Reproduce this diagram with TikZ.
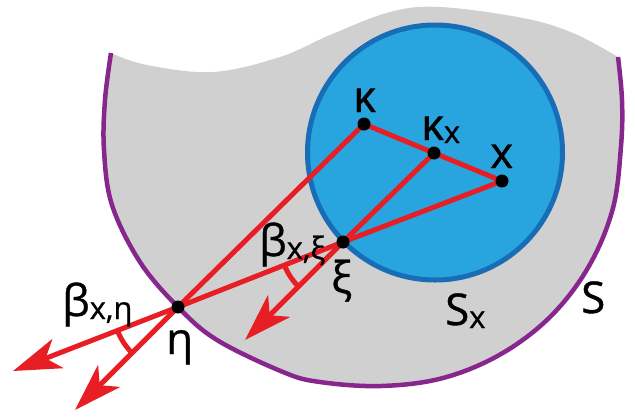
\documentclass[tikz,border=0pt]{standalone}
\usepackage{fontspec}
\setmainfont{Open Sans}
\newfontfamily\labfont{Open Sans}[FakeBold=0.8]
\usetikzlibrary{arrows.meta,angles,calc}
\definecolor{bggray}{RGB}{208,208,208}
\definecolor{bluefill}{RGB}{40,165,222}
\definecolor{bluedraw}{RGB}{24,110,182}
\definecolor{rayred}{RGB}{232,30,37}
\definecolor{rimpurple}{RGB}{135,38,140}
\newcommand\mysub[1]{{\fontsize{31}{31}\selectfont\raisebox{-3bp}{#1}}}
\begin{document}
\begin{tikzpicture}[x=1bp,y=1bp,
  lab/.style={font=\labfont\fontsize{44}{44}\selectfont, inner sep=0pt, anchor=base west},
  ray/.style={draw=rayred, line width=5bp, line join=round, line cap=round},
  rayarrow/.style={draw=rayred, line width=5bp, -{Stealth[length=48bp,width=31bp,inset=13bp]}},
  dot/.style={fill=black}]
\useasboundingbox (0,0) rectangle (635,-416);
% region S
\fill[bggray] plot[smooth,tension=0.6] coordinates {(111,-53) (147,-65) (213,-72) (280,-57) (330,-35) (390,-12) (440,-7) (523,-18) (573,-33) (618,-57)}
  -- plot[smooth,tension=0.6] coordinates {(618,-57) (622,-100) (621,-146) (613,-208) (589,-266) (551,-316) (501,-354) (443,-378) (381,-386) (320,-382) (283,-372) (217,-340) (178,-307) (140,-262) (112,-205) (104,-150) (105,-100) (111,-53)} -- cycle;
\draw[rimpurple, line width=4.5bp] plot[smooth,tension=0.6] coordinates {(618,-57) (622,-100) (621,-146) (613,-208) (589,-266) (551,-316) (501,-354) (443,-378) (381,-386) (320,-382) (283,-372) (217,-340) (178,-307) (140,-262) (112,-205) (104,-150) (105,-100) (111,-53)};
% region S_x
\coordinate (cen) at (435,-152.5);
\draw[bluedraw, fill=bluefill, line width=5bp] (cen) circle[radius=127.5];
% points
\coordinate (kappa) at (364,-124);
\coordinate (kx) at (434,-153);
\coordinate (X) at (502,-181);
\coordinate (xi) at (343,-242);
\coordinate (eta) at (178,-307);
\coordinate (tipA) at (13,-371);
\coordinate (tipB) at (75,-410);
\coordinate (tipC) at (245,-340);
% rays
\draw[ray] (kappa) -- (kx) -- (X) -- (xi) -- (eta);
\draw[ray] (kx) -- (xi);
\draw[ray] (kappa) -- (eta);
\draw[rayarrow] (eta) -- (tipA);
\draw[rayarrow] (eta) -- (tipB);
\draw[rayarrow] (xi) -- (tipC);
\pic[draw=rayred, line width=5bp, angle radius=65bp] {angle=tipA--eta--tipB};
\pic[draw=rayred, line width=5bp, angle radius=63bp] {angle=eta--xi--tipC};
% dots
\foreach \p in {kappa,kx,X,xi,eta} \fill[dot] (\p) circle[radius=6.5];
% labels
\node[lab] (lkappa) at (353,-112) {κ};
\node[lab] (lkx) at (421,-140) {κ\mysub{x}};
\node[lab] (lX) at (490,-168) {x};
\node[lab] (lxi) at (331,-293) {ξ};
\node[lab] (leta) at (166,-354) {η};
\node[lab] (lSx) at (445,-325) {S\mysub{x}};
\node[lab] (lS) at (581,-313) {S};
\node[lab] (lbeta) at (62,-316) {β\mysub{x,η}};
\node[lab] (lbxi) at (259,-256) {β\mysub{x,ξ}};
\end{tikzpicture}
\end{document}
